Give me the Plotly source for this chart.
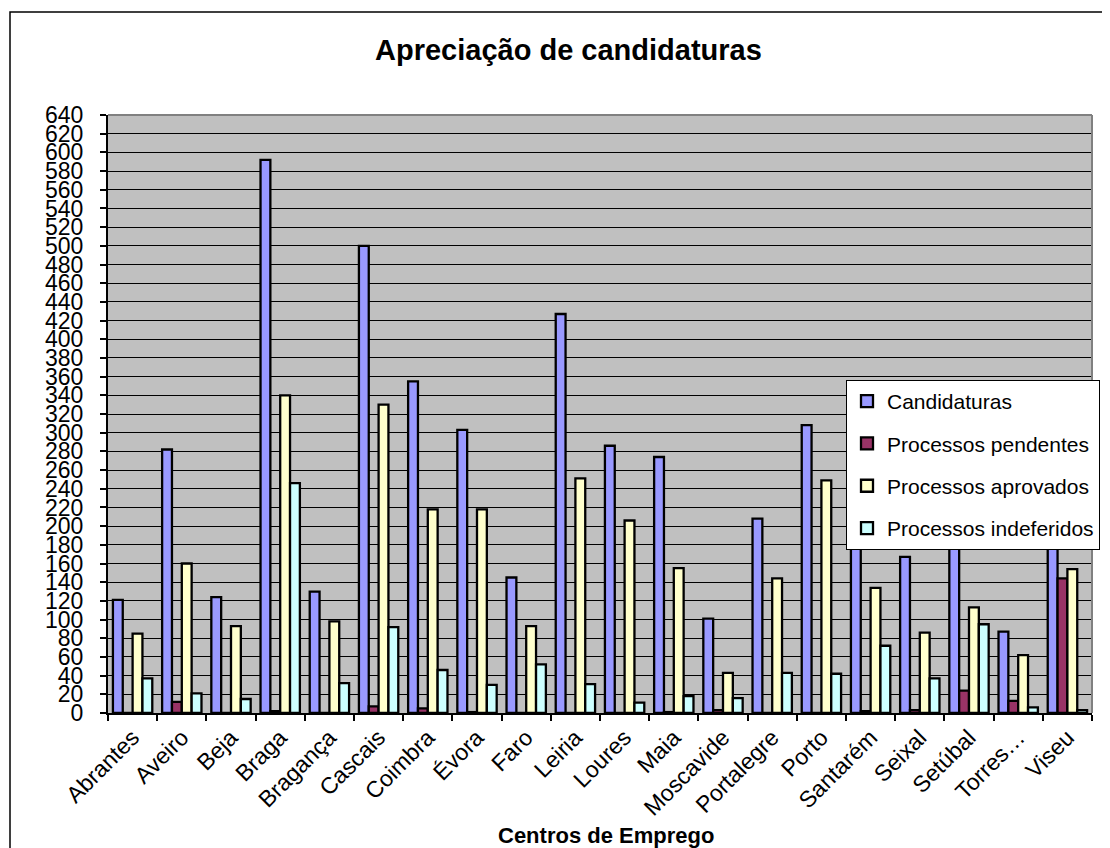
import plotly.graph_objects as go

categories = ["Abrantes", "Aveiro", "Beja", "Braga", "Bragança", "Cascais", "Coimbra",
              "Évora", "Faro", "Leiria", "Loures", "Maia", "Moscavide", "Portalegre",
              "Porto", "Santarém", "Seixal", "Setúbal", "Torres…", "Viseu"]

candidaturas = [121, 282, 124, 592, 130, 500, 355, 303, 145, 427, 286, 274, 101, 208, 308, 210, 167, 235, 87, 305]
pendentes = [0, 12, 0, 2, 0, 7, 5, 1, 0, 0, 0, 1, 3, 0, 0, 2, 3, 24, 13, 144]
aprovados = [85, 160, 93, 340, 98, 330, 218, 218, 93, 251, 206, 155, 43, 144, 249, 134, 86, 113, 62, 154]
indeferidos = [37, 21, 15, 246, 32, 92, 46, 30, 52, 31, 11, 18, 16, 43, 42, 72, 37, 95, 6, 3]

series_names = ["Candidaturas", "Processos pendentes", "Processos aprovados", "Processos indeferidos"]
series_values = [candidaturas, pendentes, aprovados, indeferidos]
series_colors = ["#9999FF", "#993366", "#FFFFCC", "#CCFFFF"]

y_ticks = list(range(0, 641, 20))

FONT = "Liberation Sans, Arial, sans-serif"

# the page body has an 8px margin: lay out in reference pixels and shift
OFF = 8
W, H = 1110 - OFF, 848 - OFF
L, R, T, B = 108 - OFF, 1092 - OFF, 115 - OFF, 713 - OFF
pw, ph = R - L, B - T


def px_x(x):
    return (x - OFF - L) / pw


def px_y(y):
    return (B - (y - OFF)) / ph


fig = go.Figure()
for name, vals, col in zip(series_names, series_values, series_colors):
    fig.add_trace(go.Bar(
        x=categories, y=vals, name=name, legendgroup=name,
        marker=dict(color=col, line=dict(color="black", width=2.3)),
    ))

fig.update_layout(
    width=W, height=H,
    margin=dict(l=L, r=W - R, t=T, b=H - B, autoexpand=False),
    paper_bgcolor="white",
    plot_bgcolor="#C0C0C0",
    barmode="group",
    bargap=0.2,
    bargroupgap=0,
    font=dict(family=FONT, color="black"),
    showlegend=True,
    legend=dict(
        x=px_x(846), y=px_y(380), xanchor="left", yanchor="top",
        bgcolor="white", bordercolor="black", borderwidth=1,
        font=dict(family=FONT, size=21, color="black"),
        tracegroupgap=12,
        traceorder="grouped",
        itemwidth=30,
    ),
    xaxis=dict(
        type="category",
        showline=True, linecolor="black", linewidth=2,
        ticks="outside", ticklen=6, tickcolor="black", tickwidth=1.5,
        tickson="boundaries",
        tickangle=-45,
        tickfont=dict(family=FONT, size=23, color="black"),
        showgrid=False,
        fixedrange=True,
    ),
    yaxis=dict(
        range=[0, 640],
        tickvals=y_ticks,
        ticktext=[str(v) for v in y_ticks],
        showline=True, linecolor="black", linewidth=2,
        ticks="outside", ticklen=6, tickcolor="black", tickwidth=1.5,
        tickfont=dict(family=FONT, size=23, color="black"),
        ticklabelstandoff=12,
        showgrid=True, gridcolor="black", gridwidth=1,
        zeroline=False,
        fixedrange=True,
    ),
    shapes=[
        # plot area border (top and right, gray)
        dict(type="line", xref="paper", yref="paper", x0=0, x1=1, y0=1, y1=1,
             line=dict(color="#808080", width=2)),
        dict(type="line", xref="paper", yref="paper", x0=1, x1=1, y0=0, y1=1,
             line=dict(color="#808080", width=2)),
        # outer chart border
        dict(type="rect", xref="paper", yref="paper",
             x0=px_x(10), x1=px_x(1150), y0=px_y(900), y1=px_y(12),
             line=dict(color="black", width=1.5), fillcolor="rgba(0,0,0,0)", layer="below"),
    ],
    annotations=[
        dict(text="<b>Apreciação de candidaturas</b>", xref="paper", yref="paper",
             x=px_x(568), y=px_y(50), xanchor="center", yanchor="middle",
             showarrow=False, font=dict(family=FONT, size=29, color="black")),
        dict(text="<b>Centros de Emprego</b>", xref="paper", yref="paper",
             x=px_x(606), y=px_y(835), xanchor="center", yanchor="middle",
             showarrow=False, font=dict(family=FONT, size=22, color="black")),
    ],
)

fig.write_html("out.html")
